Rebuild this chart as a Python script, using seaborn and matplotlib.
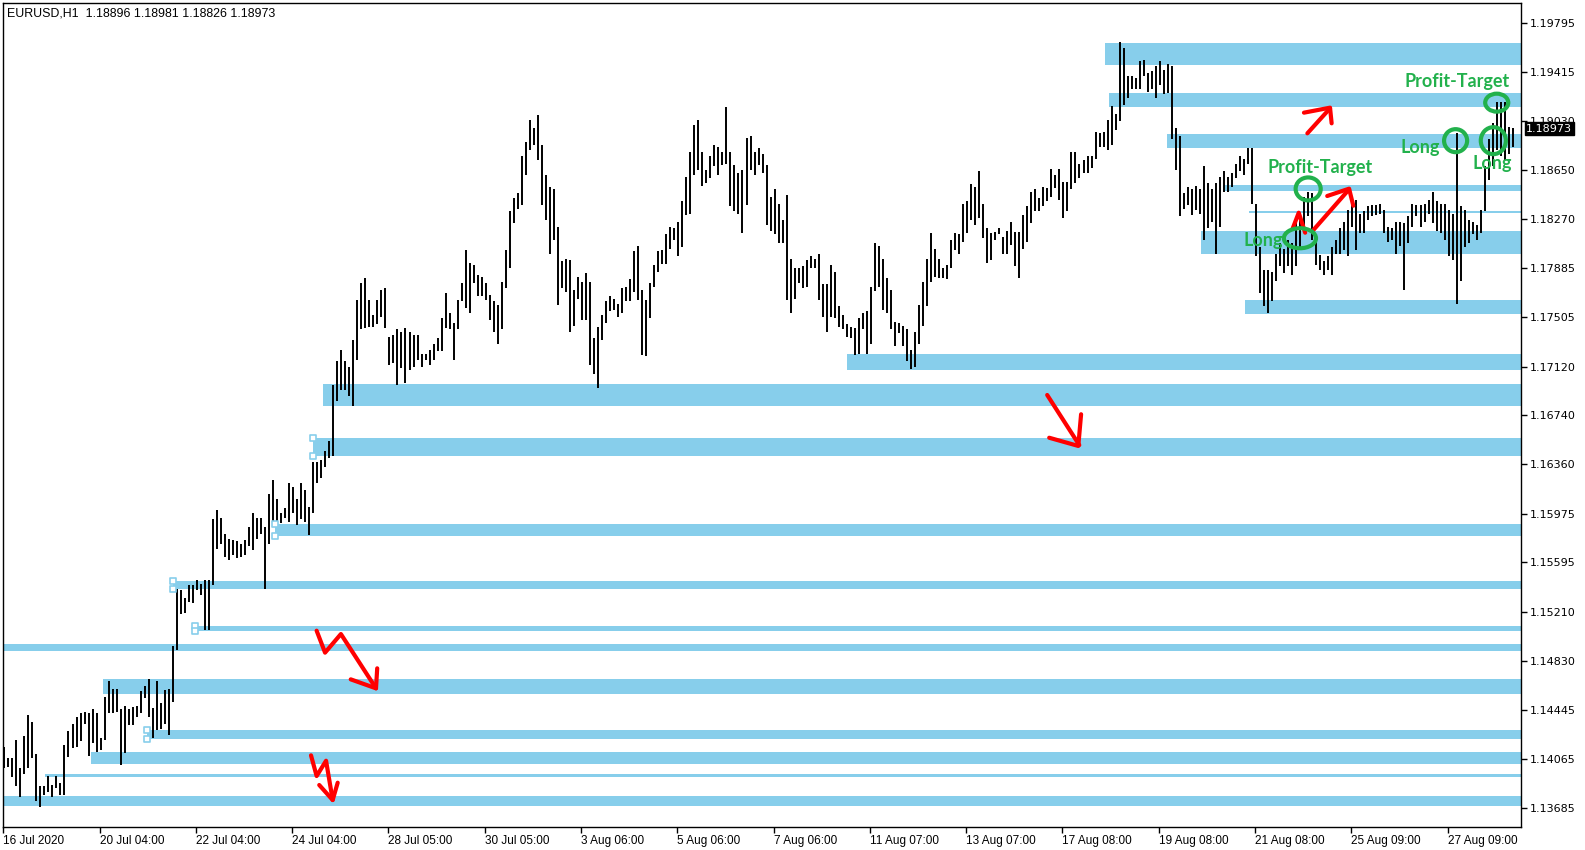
import numpy as np
import matplotlib
matplotlib.use("Agg")
import matplotlib.pyplot as plt
import matplotlib.transforms as mtransforms
from matplotlib.patches import Ellipse
import seaborn as sns

sns.set_theme(style="white")
plt.rcParams['font.family'] = ['DejaVu Sans']

# EURUSD H1 - highs / lows, each entry covers two hourly bars
highs = [
    1.1416, 1.1407, 1.1407, 1.1421, 1.1399, 1.1424, 1.1441, 1.1435, 1.1410, 1.1385,
    1.1385, 1.1393, 1.1386, 1.1393, 1.1388, 1.1417, 1.1428, 1.1434, 1.1439, 1.1442,
    1.1443, 1.1442, 1.1445, 1.1442, 1.1423, 1.1455, 1.1467, 1.1461, 1.1461, 1.1445,
    1.1448, 1.1445, 1.1447, 1.1448, 1.1459, 1.1463, 1.1469, 1.1446, 1.1467, 1.1450,
    1.1460, 1.1461, 1.1494, 1.1539, 1.1538, 1.1532, 1.1542, 1.1542, 1.1546, 1.1543,
    1.1546, 1.1546, 1.1593, 1.1600, 1.1594, 1.1582, 1.1578, 1.1577, 1.1576, 1.1574,
    1.1577, 1.1587, 1.1598, 1.1594, 1.1594, 1.1587, 1.1613,
    1.1624, 1.1609, 1.1598, 1.1602, 1.1621, 1.1618, 1.1609, 1.1621, 1.1616, 1.1603,
    1.1638, 1.1638, 1.1639, 1.1646, 1.1654, 1.1698, 1.1716, 1.1725, 1.1716, 1.1712,
    1.1733, 1.1764, 1.1777, 1.1781, 1.1764, 1.1752, 1.1764, 1.1772, 1.1773, 1.1735,
    1.1737, 1.1741, 1.1739, 1.1742, 1.1739, 1.1737, 1.1737, 1.1722, 1.1722, 1.1725,
    1.1730, 1.1734, 1.1750, 1.1769, 1.1754, 1.1746, 1.1764, 1.1777, 1.1803, 1.1793,
    1.1791, 1.1783, 1.1782, 1.1777, 1.1768, 1.1763, 1.1760, 1.1778, 1.1803,
    1.1833, 1.1843, 1.1847, 1.1876, 1.1887, 1.1904, 1.1898, 1.1908, 1.1885, 1.1861,
    1.1852, 1.1850, 1.1821, 1.1794, 1.1796, 1.1795, 1.1772, 1.1782, 1.1778, 1.1785,
    1.1778, 1.1734, 1.1743, 1.1752, 1.1763, 1.1767, 1.1765, 1.1761, 1.1773, 1.1774,
    1.1780, 1.1802, 1.1806, 1.1772, 1.1764, 1.1777, 1.1791, 1.1802, 1.1803, 1.1815,
    1.1821, 1.1820, 1.1825, 1.1841, 1.1860, 1.1879, 1.1900, 1.1904, 1.1879, 1.1865,
    1.1876, 1.1885, 1.1883, 1.1879, 1.1914, 1.1879, 1.1869, 1.1863, 1.1865, 1.1890,
    1.1892, 1.1879, 1.1882,
    1.1878, 1.1869, 1.1844, 1.1850, 1.1839, 1.1826, 1.1846, 1.1796, 1.1789, 1.1789,
    1.1790, 1.1795, 1.1798, 1.1796, 1.1800, 1.1776, 1.1776, 1.1791, 1.1786, 1.1759,
    1.1752, 1.1745, 1.1743, 1.1742, 1.1750, 1.1754, 1.1755, 1.1774, 1.1808, 1.1806,
    1.1796, 1.1781, 1.1772, 1.1747, 1.1746, 1.1744, 1.1741, 1.1725, 1.1739, 1.1760,
    1.1778, 1.1796, 1.1816, 1.1804, 1.1796, 1.1789, 1.1791, 1.1811, 1.1816, 1.1815,
    1.1839, 1.1841, 1.1854, 1.1852, 1.1864, 1.1839, 1.1820, 1.1816, 1.1817, 1.1820,
    1.1813, 1.1818, 1.1825, 1.1817, 1.1817, 1.1830, 1.1837, 1.1848, 1.1850, 1.1843,
    1.1852, 1.1851, 1.1866, 1.1861, 1.1866, 1.1856, 1.1856, 1.1879, 1.1879, 1.1870,
    1.1873, 1.1876, 1.1876, 1.1895, 1.1894, 1.1895, 1.1904, 1.1915, 1.1909, 1.1965,
    1.1960, 1.1938, 1.1938, 1.1937, 1.1950, 1.1951, 1.1941, 1.1942, 1.1946, 1.1950,
    1.1943, 1.1948, 1.1946, 1.1898, 1.1892, 1.1847, 1.1852, 1.1850, 1.1853, 1.1850,
    1.1868, 1.1855, 1.1850, 1.1855, 1.1860, 1.1864, 1.1860, 1.1863, 1.1870, 1.1876,
    1.1874, 1.1882,
    1.1882, 1.1839, 1.1805, 1.1787, 1.1787, 1.1786, 1.1800, 1.1808, 1.1804, 1.1811,
    1.1808, 1.1826, 1.1831, 1.1844, 1.1848, 1.1847, 1.1811, 1.1799, 1.1794, 1.1798,
    1.1805, 1.1811, 1.1820, 1.1825, 1.1834, 1.1844, 1.1842, 1.1831, 1.1833, 1.1837,
    1.1838, 1.1838, 1.1839, 1.1834, 1.1821, 1.1820, 1.1825, 1.1825, 1.1824, 1.1829,
    1.1839, 1.1838, 1.1838, 1.1839, 1.1842, 1.1848, 1.1841, 1.1839, 1.1839, 1.1834,
    1.1831, 1.1894, 1.1837, 1.1834, 1.1826, 1.1825, 1.1822, 1.1834, 1.1868, 1.1889,
    1.1902, 1.1918, 1.1918, 1.1918, 1.1899, 1.1898,
]
lows = [
    1.1399, 1.1400, 1.1392, 1.1385, 1.1377, 1.1395, 1.1399, 1.1407, 1.1374, 1.1369,
    1.1378, 1.1381, 1.1377, 1.1384, 1.1378, 1.1378, 1.1408, 1.1415, 1.1416, 1.1420,
    1.1434, 1.1409, 1.1419, 1.1412, 1.1413, 1.1421, 1.1442, 1.1442, 1.1443, 1.1402,
    1.1411, 1.1433, 1.1433, 1.1439, 1.1442, 1.1454, 1.1439, 1.1423, 1.1429, 1.1430,
    1.1434, 1.1425, 1.1451, 1.1491, 1.1519, 1.1520, 1.1529, 1.1528, 1.1538, 1.1534,
    1.1507, 1.1507, 1.1542, 1.1570, 1.1574, 1.1564, 1.1561, 1.1565, 1.1563, 1.1564,
    1.1565, 1.1572, 1.1569, 1.1578, 1.1582, 1.1539, 1.1574,
    1.1587, 1.1587, 1.1590, 1.1594, 1.1591, 1.1598, 1.1589, 1.1593, 1.1591, 1.1581,
    1.1598, 1.1621, 1.1625, 1.1634, 1.1641, 1.1642, 1.1685, 1.1694, 1.1694, 1.1689,
    1.1681, 1.1717, 1.1741, 1.1742, 1.1743, 1.1743, 1.1745, 1.1751, 1.1742, 1.1713,
    1.1715, 1.1698, 1.1711, 1.1699, 1.1709, 1.1712, 1.1717, 1.1712, 1.1717, 1.1713,
    1.1717, 1.1724, 1.1724, 1.1742, 1.1741, 1.1717, 1.1741, 1.1763, 1.1758, 1.1754,
    1.1777, 1.1767, 1.1767, 1.1764, 1.1748, 1.1739, 1.1730, 1.1741, 1.1773,
    1.1789, 1.1824, 1.1835, 1.1838, 1.1861, 1.1881, 1.1885, 1.1873, 1.1838, 1.1826,
    1.1800, 1.1811, 1.1760, 1.1773, 1.1770, 1.1739, 1.1744, 1.1765, 1.1748, 1.1748,
    1.1713, 1.1706, 1.1695, 1.1733, 1.1746, 1.1755, 1.1756, 1.1751, 1.1754, 1.1763,
    1.1763, 1.1770, 1.1764, 1.1721, 1.1720, 1.1750, 1.1774, 1.1786, 1.1792, 1.1792,
    1.1804, 1.1811, 1.1798, 1.1805, 1.1830, 1.1831, 1.1861, 1.1865, 1.1853, 1.1855,
    1.1859, 1.1868, 1.1861, 1.1869, 1.1870, 1.1837, 1.1833, 1.1831, 1.1816, 1.1838,
    1.1865, 1.1861, 1.1869,
    1.1863, 1.1822, 1.1818, 1.1815, 1.1808, 1.1808, 1.1764, 1.1754, 1.1765, 1.1777,
    1.1773, 1.1774, 1.1789, 1.1789, 1.1764, 1.1751, 1.1739, 1.1751, 1.1750, 1.1743,
    1.1741, 1.1735, 1.1734, 1.1721, 1.1722, 1.1741, 1.1722, 1.1730, 1.1771, 1.1774,
    1.1756, 1.1754, 1.1741, 1.1728, 1.1738, 1.1728, 1.1716, 1.1710, 1.1712, 1.1730,
    1.1744, 1.1759, 1.1778, 1.1782, 1.1781, 1.1781, 1.1780, 1.1789, 1.1803, 1.1800,
    1.1809, 1.1816, 1.1826, 1.1822, 1.1828, 1.1812, 1.1793, 1.1795, 1.1811, 1.1815,
    1.1800, 1.1800, 1.1807, 1.1790, 1.1781, 1.1804, 1.1809, 1.1824, 1.1833, 1.1833,
    1.1837, 1.1841, 1.1844, 1.1851, 1.1842, 1.1828, 1.1833, 1.1850, 1.1855, 1.1859,
    1.1863, 1.1863, 1.1867, 1.1874, 1.1883, 1.1883, 1.1881, 1.1885, 1.1896, 1.1903,
    1.1916, 1.1921, 1.1928, 1.1928, 1.1928, 1.1938, 1.1926, 1.1928, 1.1921, 1.1931,
    1.1924, 1.1925, 1.1889, 1.1865, 1.1829, 1.1835, 1.1838, 1.1830, 1.1834, 1.1831,
    1.1811, 1.1820, 1.1825, 1.1800, 1.1821, 1.1848, 1.1848, 1.1852, 1.1859, 1.1864,
    1.1861, 1.1870,
    1.1839, 1.1798, 1.1769, 1.1759, 1.1754, 1.1763, 1.1779, 1.1790, 1.1785, 1.1790,
    1.1783, 1.1790, 1.1804, 1.1816, 1.1829, 1.1811, 1.1791, 1.1787, 1.1783, 1.1787,
    1.1783, 1.1800, 1.1800, 1.1803, 1.1798, 1.1821, 1.1803, 1.1816, 1.1816, 1.1826,
    1.1829, 1.1830, 1.1831, 1.1816, 1.1809, 1.1811, 1.1800, 1.1806, 1.1772, 1.1808,
    1.1821, 1.1829, 1.1821, 1.1825, 1.1831, 1.1824, 1.1818, 1.1816, 1.1811, 1.1798,
    1.1795, 1.1761, 1.1779, 1.1805, 1.1808, 1.1815, 1.1811, 1.1816, 1.1833, 1.1857,
    1.1868, 1.1881, 1.1876, 1.1873, 1.1878, 1.1883,
]

x_labels = ['16 Jul 2020', '20 Jul 04:00', '22 Jul 04:00', '24 Jul 04:00', '28 Jul 05:00',
            '30 Jul 05:00', '3 Aug 06:00', '5 Aug 06:00', '7 Aug 06:00', '11 Aug 07:00',
            '13 Aug 07:00', '17 Aug 08:00', '19 Aug 08:00', '21 Aug 08:00', '25 Aug 09:00',
            '27 Aug 09:00']
bars_per_label = 48
y_ticks = [1.19795, 1.19415, 1.19030, 1.18650, 1.18270, 1.17885, 1.17505, 1.17120, 1.16740,
           1.16360, 1.15975, 1.15595, 1.15210, 1.14830, 1.14445, 1.14065, 1.13685]
last_price = 1.18973
header = 'EURUSD,H1  1.18896 1.18981 1.18826 1.18973'

# support / resistance zones (price top, price bottom, starting bar; -1 = whole width)
zone_top = [1.19641, 1.19251, 1.18932, 1.18535, 1.18335, 1.18177, 1.17640, 1.17219, 1.16985,
            1.16562, 1.15895, 1.15450, 1.15100, 1.14960, 1.14687, 1.14290, 1.14119, 1.13947,
            1.13776]
zone_bottom = [1.19472, 1.19142, 1.18826, 1.18488, 1.18314, 1.18000, 1.17533, 1.17095, 1.16817,
               1.16427, 1.15804, 1.15388, 1.15064, 1.14908, 1.14573, 1.14222, 1.14028, 1.13926,
               1.13698]
zone_start = [549.2, 551.2, 580.1, 608.0, 621.0, 597.0, 619.0, 420.6, 159.4,
              154.4, 135.4, 84.6, 95.6, -1, 49.7, 71.6, 43.7, 20.8, -1]
selected_zones = [9, 10, 11, 12, 15]

# hand drawn red arrows (bar, price)
arrows = [
    ([156.2, 160.4, 168.3, 185.8], [1.15063, 1.14892, 1.15037, 1.14614],
     [173.2, 185.8, 186.4], [1.14684, 1.14614, 1.14770]),
    ([153.4, 156.2, 160.9, 164.2], [1.14092, 1.13931, 1.14050, 1.13744],
     [157.5, 164.2, 166.7], [1.13861, 1.13744, 1.13879]),
    ([520.4, 536.4], [1.16899, 1.16509],
     [521.4, 535.9, 537.3], [1.16566, 1.16502, 1.16749]),
    ([650.1, 661.4], [1.18937, 1.19132],
     [648.4, 661.4, 662.2], [1.19098, 1.19137, 1.19015]),
    ([642.8, 645.8, 649.0], [1.18197, 1.18319, 1.18163], [], []),
    ([653.1, 670.9], [1.18184, 1.18501],
     [660.0, 670.9, 673.0], [1.18449, 1.18506, 1.18373]),
]

# green circles (bar centre, price centre, width in bars, height in price)
circle_x = [650.5, 646.4, 724.0, 742.8, 744.5]
circle_y = [1.18504, 1.18120, 1.18880, 1.18880, 1.19176]
circle_w = [12.5, 16.0, 11.5, 12.5, 11.5]
circle_h = [0.00179, 0.00156, 0.00179, 0.00210, 0.00140]

note_text = ['Profit-Target', 'Profit-Target', 'Long', 'Long', 'Long']
note_x = [656.6, 724.7, 706.2, 742.1, 628.0]
note_y = [1.18671, 1.19337, 1.18823, 1.18706, 1.18106]

XMIN, XMAX = -0.15, 756.6
YMIN, YMAX = 1.135339, 1.199523
ZONE = '#87CEEB'
GREEN = '#22B14C'

fig = plt.figure(figsize=(15.85, 8.5), dpi=100)
ax = fig.add_axes([3 / 1585, 23 / 850, 1518 / 1585, 824 / 850])

# zones
starts = np.array([XMIN if s < 0 else s for s in zone_start])
tops = np.array(zone_top)
bots = np.array(zone_bottom)
ax.barh(y=(tops + bots) / 2, width=XMAX - starts, left=starts, height=tops - bots,
        color=ZONE, edgecolor='none', zorder=1)

# price bars
xs = np.arange(len(highs)) * 2 + 0.5
ax.vlines(xs, lows, highs, colors='black', lw=1.4, zorder=2)

# selection handles on some zones
hx = [zone_start[i] for i in selected_zones] * 2
hy = [zone_top[i] for i in selected_zones] + [zone_bottom[i] for i in selected_zones]
sns.scatterplot(x=hx, y=hy, marker='s', s=16, color='white', edgecolor=ZONE,
                linewidth=1.2, zorder=3, ax=ax)

for lx, ly, hx_, hy_ in arrows:
    ax.plot(lx, ly, color='red', lw=3, solid_capstyle='round', solid_joinstyle='round', zorder=4)
    if hx_:
        ax.plot(hx_, hy_, color='red', lw=3, solid_capstyle='round',
                solid_joinstyle='round', zorder=4)

for cx, cy, cw, ch in zip(circle_x, circle_y, circle_w, circle_h):
    ax.add_patch(Ellipse((cx, cy), cw, ch, fill=False, edgecolor=GREEN, lw=3, zorder=5))

for t, tx, ty in zip(note_text, note_x, note_y):
    ax.text(tx, ty, t, color=GREEN, fontsize=13, fontweight='bold', family=['Lato', 'DejaVu Sans'],
            ha='center', va='center', zorder=6)

ax.set_xlim(XMIN, XMAX)
ax.set_ylim(YMIN, YMAX)

ax.set_xticks([i * bars_per_label for i in range(len(x_labels))])
ax.set_xticklabels(x_labels, family=['Liberation Sans', 'DejaVu Sans'], fontsize=8.5)
for lab in ax.get_xticklabels():
    lab.set_horizontalalignment('left')
ax.yaxis.tick_right()
ax.set_yticks(y_ticks)
ax.set_yticklabels([f'{v:.5f}' for v in y_ticks], fontsize=8)
ax.tick_params(axis='x', direction='out', length=4, width=1, pad=1.5, colors='black', bottom=True)
ax.tick_params(axis='y', direction='out', length=4, width=1, pad=2, colors='black', right=True, left=False)

for sp in ax.spines.values():
    sp.set_color('black')
    sp.set_linewidth(1)

# current price marker on the price scale
trans = mtransforms.blended_transform_factory(ax.transAxes, ax.transData)
ax.text(1.0035, last_price, f'{last_price:.5f}', transform=trans, color='white', fontsize=8,
        ha='left', va='center', clip_on=False, zorder=10,
        bbox=dict(facecolor='black', edgecolor='black', boxstyle='square,pad=0.15'))

fig.text(7 / 1585, 1 - 13 / 850, header, fontsize=8.9, family=['Liberation Sans', 'DejaVu Sans'],
         ha='left', va='center', color='black')

fig.savefig('out.png', dpi=100, facecolor='white')
